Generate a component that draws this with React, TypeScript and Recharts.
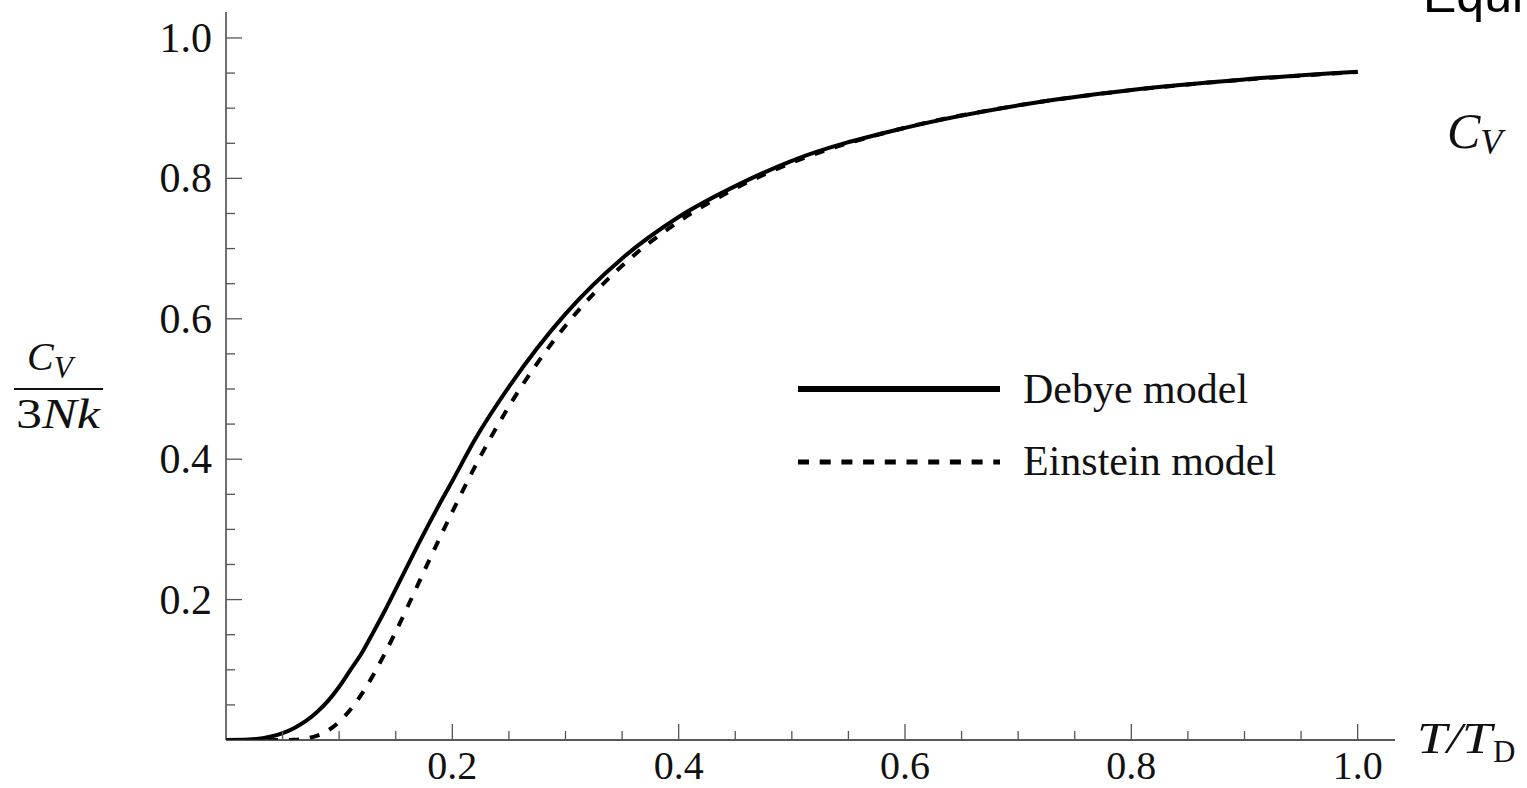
import React from "react";
import { LineChart, Line, XAxis, YAxis } from "recharts";

const temps = [0, 0.02, 0.04, 0.05, 0.06, 0.07, 0.08, 0.09, 0.1, 0.11, 0.12, 0.13, 0.14, 0.15, 0.16, 0.17, 0.18, 0.19, 0.2, 0.22, 0.25, 0.3, 0.35, 0.4, 0.45, 0.5, 0.6, 0.7, 0.8, 0.9, 1.0];
const debye = [0, 0.0006, 0.005, 0.0097, 0.0168, 0.0265, 0.0393, 0.0553, 0.0758, 0.1, 0.124, 0.153, 0.183, 0.215, 0.247, 0.279, 0.31, 0.34, 0.369, 0.428, 0.503, 0.607, 0.686, 0.745, 0.789, 0.825, 0.872, 0.904, 0.926, 0.941, 0.952];
const einstein = [0, 0, 0, 0.00005, 0.0004, 0.0019, 0.0059, 0.0135, 0.0259, 0.0434, 0.0657, 0.0922, 0.1221, 0.1543, 0.1882, 0.2228, 0.2575, 0.2917, 0.325, 0.3893, 0.4752, 0.59, 0.6755, 0.7384, 0.7856, 0.8223, 0.8721, 0.904, 0.9257, 0.9406, 0.9515];
const tickValues = [0.05, 0.1, 0.15, 0.2, 0.25, 0.3, 0.35, 0.4, 0.45, 0.5, 0.55, 0.6, 0.65, 0.7, 0.75, 0.8, 0.85, 0.9, 0.95, 1.0];
const seriesNames = ["Debye model", "Einstein model"];

const data = temps.map((t, i) => ({ t, debye: debye[i], einstein: einstein[i] }));

const SERIF = "'Liberation Serif', 'Times New Roman', serif";
const SANS = "'Liberation Sans', Arial, sans-serif";
const TICK_COLOR = "#555";

const isMajor = (v: number) => Math.abs(v * 5 - Math.round(v * 5)) < 1e-6;

const XTick = (props: any) => {
  const { x, y, payload } = props;
  const v = payload.value as number;
  const major = isMajor(v);
  return (
    <g>
      <line x1={x} x2={x} y1={y} y2={y - (major ? 16 : 9)} stroke={TICK_COLOR} strokeWidth={1.3} />
      {major && (
        <text x={x} y={y + 39} textAnchor="middle" fontFamily={SERIF} fontSize={40} fill="#111">
          {v.toFixed(1)}
        </text>
      )}
    </g>
  );
};

const YTick = (props: any) => {
  const { x, y, payload } = props;
  const v = payload.value as number;
  const major = isMajor(v);
  return (
    <g>
      <line x1={x} x2={x + (major ? 16 : 9)} y1={y} y2={y} stroke={TICK_COLOR} strokeWidth={1.3} />
      {major && (
        <text x={x - 14} y={y + 14} textAnchor="end" fontFamily={SERIF} fontSize={42} fill="#111">
          {v.toFixed(1)}
        </text>
      )}
    </g>
  );
};

export default function App() {
  return (
    <div style={{ position: "absolute", left: 0, top: 0, width: 1527, height: 788, background: "#fff", overflow: "hidden" }}>
      <LineChart width={1527} height={788} data={data} margin={{ top: 12, right: 132, bottom: 0, left: 0 }}>
        <XAxis
          type="number"
          dataKey="t"
          domain={[0, 1.033]}
          ticks={tickValues}
          interval={0}
          allowDataOverflow
          height={48}
          tickSize={0}
          tickMargin={0}
          tickLine={false}
          axisLine={{ stroke: "#222", strokeWidth: 1.3 }}
          tick={<XTick />}
        />
        <YAxis
          type="number"
          domain={[0, 1.037]}
          ticks={tickValues}
          interval={0}
          allowDataOverflow
          width={226}
          tickSize={0}
          tickMargin={0}
          tickLine={false}
          axisLine={{ stroke: "#222", strokeWidth: 1.3 }}
          tick={<YTick />}
        />
        <Line
          type="monotone"
          dataKey="einstein"
          name={seriesNames[1]}
          stroke="#000"
          strokeWidth={4}
          strokeDasharray="10 11"
          dot={false}
          activeDot={false}
          isAnimationActive={false}
        />
        <Line
          type="monotone"
          dataKey="debye"
          name={seriesNames[0]}
          stroke="#000"
          strokeWidth={4}
          dot={false}
          activeDot={false}
          isAnimationActive={false}
        />
      </LineChart>
      <svg
        width={1527}
        height={788}
        style={{ position: "absolute", left: 0, top: 0, pointerEvents: "none" }}
      >
        {/* legend */}
        <line x1={798} x2={1000} y1={389} y2={389} stroke="#000" strokeWidth={6} />
        <text x={1023} y={403} fontFamily={SERIF} fontSize={42} fill="#111">{seriesNames[0]}</text>
        <line x1={798} x2={1000} y1={462} y2={462} stroke="#000" strokeWidth={5} strokeDasharray="11 10.7" />
        <text x={1023} y={475} fontFamily={SERIF} fontSize={42} fill="#111">{seriesNames[1]}</text>
        {/* Y axis label: C_V / 3Nk */}
        <text x={27} y={370} fontFamily={SERIF} fontStyle="italic" fontSize={40} fill="#111">
          C
          <tspan fontSize={31} dy={8}>V</tspan>
        </text>
        <line x1={14} x2={103} y1={389} y2={389} stroke="#111" strokeWidth={2.2} />
        <text x={16} y={428} fontFamily={SERIF} fontSize={42} fill="#111" textLength={84} lengthAdjust="spacingAndGlyphs">
          3<tspan fontStyle="italic">Nk</tspan>
        </text>
        {/* X axis label: T / T_D */}
        <text x={1417} y={753} fontFamily={SERIF} fontStyle="italic" fontSize={44} fill="#111" textLength={75} lengthAdjust="spacingAndGlyphs">
          T/T
        </text>
        <text x={1493} y={762} fontFamily={SERIF} fontSize={31} fill="#111">D</text>
        {/* right side C_V */}
        <text x={1447} y={148} fontFamily={SERIF} fontStyle="italic" fontSize={50} fill="#111">
          C
          <tspan fontSize={36} dy={6}>V</tspan>
        </text>
        {/* cut-off heading at top right, as in the reference */}
        <text x={1423} y={12} fontFamily={SANS} fontSize={50} fill="#000">Equi</text>
      </svg>
    </div>
  );
}
